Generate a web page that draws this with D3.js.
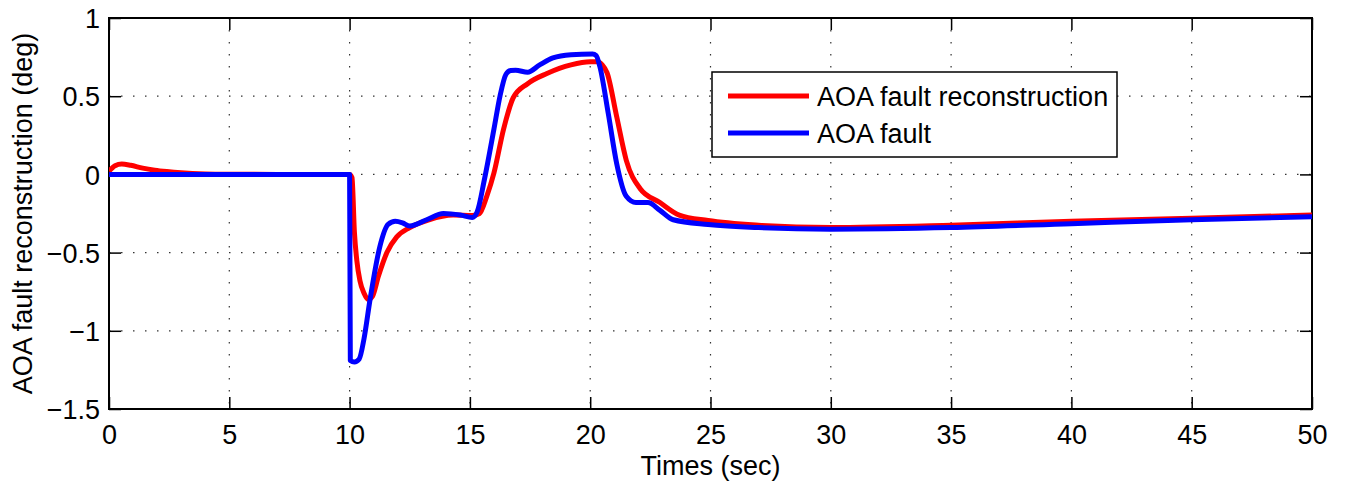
<!DOCTYPE html>
<html><head><meta charset="utf-8">
<script src="https://cdn.jsdelivr.net/npm/d3@7"></script>
<style>body{margin:0;background:#fff}svg{display:block}text{font-family:"Liberation Sans",Arial,sans-serif;fill:#000}</style>
</head><body><svg id="c" width="1347" height="487"></svg>
<script>
const xTicks = [0,5,10,15,20,25,30,35,40,45,50];
const yTicks = [-1.5,-1,-0.5,0,0.5,1];
const yTickLabels = ["\u22121.5","\u22121","\u22120.5","0","0.5","1"];
const seriesNames = ["AOA fault reconstruction","AOA fault"];
const seriesColors = ["#ff0000","#0000ff"];
// AOA fault reconstruction (red)
const reconT = [0,0.25,0.53,0.9,1.4,1.9,2.4,3,4,5,7,9,10,10.1,10.2,10.3,10.43,10.6,10.78,10.95,11.2,11.55,11.96,12.5,13.3,14.3,15.1,15.4,15.7,16.0,16.4,16.8,17.4,18.2,19.2,20.0,20.3,20.5,20.7,21.1,21.5,22.07,22.9,23.7,24.9,27,30,35,40,45,50];
const reconV = [0.02,0.055,0.066,0.058,0.04,0.027,0.018,0.01,0.003,0.001,0,0,0,-0.02,-0.37,-0.55,-0.68,-0.76,-0.80,-0.78,-0.65,-0.50,-0.40,-0.34,-0.29,-0.26,-0.263,-0.25,-0.14,0.01,0.29,0.49,0.58,0.645,0.70,0.72,0.72,0.70,0.65,0.37,0.09,-0.09,-0.18,-0.26,-0.295,-0.325,-0.34,-0.325,-0.30,-0.28,-0.26];
// AOA fault (blue)
const faultT = [0,5,10,10.03,10.2,10.4,10.6,10.85,11.26,11.6,11.9,12.2,12.5,13.2,13.9,14.6,15.1,15.3,15.6,16.0,16.25,16.5,16.7,16.9,17.4,17.9,18.45,19.2,20.1,20.25,20.4,20.75,21.1,21.5,21.9,22.4,22.9,23.45,24.9,27,30,35,40,45,50];
const faultV = [0,0,0,-1.19,-1.2,-1.18,-1.05,-0.80,-0.46,-0.32,-0.30,-0.31,-0.33,-0.29,-0.25,-0.26,-0.275,-0.24,-0.035,0.29,0.50,0.64,0.665,0.666,0.653,0.70,0.745,0.765,0.77,0.76,0.69,0.39,0.07,-0.14,-0.18,-0.18,-0.23,-0.29,-0.32,-0.34,-0.35,-0.34,-0.315,-0.29,-0.27];

const svg = d3.select("#c");
const L=109, R=1312, T=18, B=409;
const FS = "27px";
const x = d3.scaleLinear().domain([0,50]).range([L,R]);
const y = d3.scaleLinear().domain([-1.5,1]).range([B,T]);

// grid
const g = svg.append("g");
g.selectAll(".vg").data(xTicks.slice(1,-1)).enter().append("line")
 .attr("x1",d=>x(d)).attr("x2",d=>x(d)).attr("y1",T).attr("y2",B)
 .attr("stroke","#333").attr("stroke-width",1.2).attr("stroke-dasharray","1.5,10.5");
g.selectAll(".hg").data(yTicks.slice(1,-1)).enter().append("line")
 .attr("y1",d=>y(d)).attr("y2",d=>y(d)).attr("x1",L).attr("x2",R)
 .attr("stroke","#333").attr("stroke-width",1.2).attr("stroke-dasharray","1.5,10.5");

// axes
const ax = svg.append("g").attr("transform",`translate(0,${B})`).call(d3.axisBottom(x).tickValues(xTicks).tickSize(-12).tickFormat(d3.format("d")));
const axT = svg.append("g").attr("transform",`translate(0,${T})`).call(d3.axisTop(x).tickValues(xTicks).tickSize(-12).tickFormat(""));
const ay = svg.append("g").attr("transform",`translate(${L},0)`).call(d3.axisLeft(y).tickValues(yTicks).tickSize(-12).tickFormat((d,i)=>yTickLabels[i]));
const ayR = svg.append("g").attr("transform",`translate(${R},0)`).call(d3.axisRight(y).tickValues(yTicks).tickSize(-12).tickFormat(""));
[ax,axT,ay,ayR].forEach(a=>{a.select(".domain").remove();a.selectAll("line").attr("stroke","#000").attr("stroke-width",1.5);a.selectAll("text").style("font-size",FS).attr("fill","#000");});
ax.selectAll("text").attr("y",25).attr("dy","0.36em");
ay.selectAll("text").attr("x",-9).attr("dy","0.36em");
svg.append("rect").attr("x",L).attr("y",T).attr("width",R-L).attr("height",B-T).attr("fill","none").attr("stroke","#000").attr("stroke-width",2);

// lines
const line = d3.line().x(d=>x(d[0])).y(d=>y(d[1])).curve(d3.curveMonotoneX);
svg.append("clipPath").attr("id","cp").append("rect").attr("x",L).attr("y",T).attr("width",R-L).attr("height",B-T);
const data = [d3.zip(reconT,reconV), d3.zip(faultT,faultV)];
data.forEach((d,i)=>{
  svg.append("path").attr("d",line(d)).attr("fill","none").attr("stroke",seriesColors[i]).attr("stroke-width",5).attr("stroke-linejoin","round").attr("clip-path","url(#cp)");
});

// legend
const lg = svg.append("g");
lg.append("rect").attr("x",712).attr("y",72).attr("width",405).attr("height",85).attr("fill","#fff").attr("stroke","#000").attr("stroke-width",1.5);
seriesNames.forEach((n,i)=>{
  const yy = 96 + i*37;
  lg.append("line").attr("x1",728).attr("x2",809).attr("y1",yy).attr("y2",yy).attr("stroke",seriesColors[i]).attr("stroke-width",5);
  lg.append("text").attr("x",817).attr("y",yy).attr("dy","0.36em").style("font-size",FS).text(n);
});

// axis labels
svg.append("text").attr("x",(L+R)/2).attr("y",465).attr("dy","0.36em").attr("text-anchor","middle").style("font-size",FS).text("Times (sec)");
svg.append("text").attr("transform",`translate(22,${(T+B)/2}) rotate(-90)`).attr("dy","0.36em").attr("text-anchor","middle").style("font-size",FS).text("AOA fault reconstruction (deg)");
</script></body></html>
